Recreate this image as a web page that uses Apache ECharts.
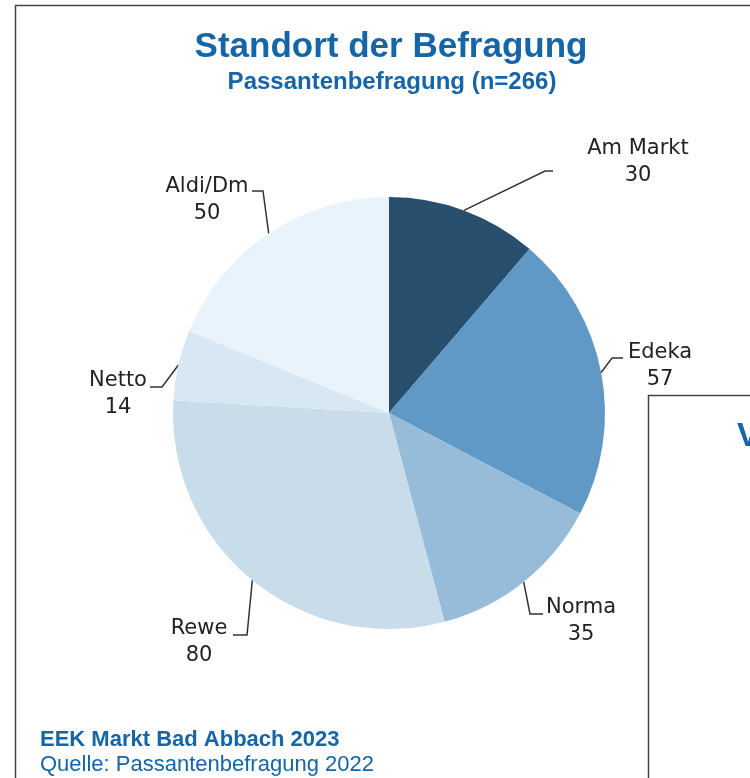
<!DOCTYPE html>
<html>
<head>
<meta charset="utf-8">
<script src="https://cdn.jsdelivr.net/npm/echarts@6/dist/echarts.min.js"></script>
<style>
  html, body { margin: 0; padding: 0; background: #fff; }
  #chart { width: 750px; height: 778px; }
</style>
</head>
<body>
<div id="chart"></div>
<script>
// Werte aus der Grafik
var names = ['Am Markt', 'Edeka', 'Norma', 'Rewe', 'Netto', 'Aldi/Dm'];
var values = [30, 57, 35, 80, 14, 50];
var colors = ['#284f6e', '#6199c6', '#97bcda', '#c9dcea', '#d8e7f4', '#e9f3fb'];

// Beschriftungen: Mitte des Textblocks, Knick und Ende der Fuehrungslinie
var labelPos = {
	'Am Markt' : { at : [638, 162], line : [ [545, 171], [553, 171] ] },
	'Edeka' : { at : [660, 366], line : [ [612, 358], [623, 358] ] },
	'Norma' : { at : [581, 621], line : [ [530, 614], [543, 614] ] },
	'Rewe' : { at : [199, 642], line : [ [247, 635], [233, 635] ] },
	'Netto' : { at : [118, 394], line : [ [162, 387], [150, 387] ] },
	'Aldi/Dm' : { at : [207, 200], line : [ [263, 191], [252, 191] ] }
};

var pieData = new Array();
for (var i = 0; i < names.length; i++) {
	pieData.push({
		value : values[i],
		name : names[i],
		itemStyle : { color : colors[i] }
	});
}

var myChart = echarts.init(document.getElementById('chart'));

var blue = '#1565a8';

var option = {
	backgroundColor : '#fff',
	animation : false,
	title : [ {
		text : 'Standort der Befragung',
		left : 391,
		top : 30,
		padding : 0,
		textAlign : 'center',
		textStyle : {
			fontFamily : 'Liberation Sans',
			fontWeight : 'bold',
			fontSize : 35,
			color : blue
		}
	}, {
		text : 'Passantenbefragung (n=266)',
		left : 392,
		top : 70,
		padding : 0,
		textAlign : 'center',
		textStyle : {
			fontFamily : 'Liberation Sans',
			fontWeight : 'bold',
			fontSize : 24,
			color : blue
		}
	}, {
		text : 'EEK Markt Bad Abbach 2023',
		left : 40,
		top : 729,
		padding : 0,
		textStyle : {
			fontFamily : 'Liberation Sans',
			fontWeight : 'bold',
			fontSize : 22,
			color : blue
		}
	}, {
		text : 'Quelle: Passantenbefragung 2022',
		left : 40,
		top : 754,
		padding : 0,
		textStyle : {
			fontFamily : 'Liberation Sans',
			fontWeight : 'normal',
			fontSize : 22,
			color : blue
		}
	} ],
	graphic : [ {
		type : 'polyline',
		shape : { points : [ [ 15.5, 778 ], [ 15.5, 5.5 ], [ 750, 5.5 ] ] },
		style : { stroke : '#444', lineWidth : 1.5, fill : null },
		silent : true
	}, {
		type : 'polyline',
		shape : { points : [ [ 648.5, 778 ], [ 648.5, 395.5 ], [ 750, 395.5 ] ] },
		style : { stroke : '#444', lineWidth : 1.5, fill : null },
		silent : true
	}, {
		type : 'text',
		left : 737,
		top : 420,
		style : {
			text : 'V',
			font : 'bold 33px "Liberation Sans"',
			fill : blue
		},
		silent : true
	} ],
	series : [ {
		name : 'Standort',
		type : 'pie',
		center : [ 389, 413 ],
		radius : 216,
		startAngle : 90,
		clockwise : true,
		data : pieData,
		itemStyle : {
			borderWidth : 0
		},
		label : {
			show : true,
			position : 'outside',
			formatter : '{b}\n{c}',
			fontFamily : 'DejaVu Sans',
			fontSize : 21,
			lineHeight : 27,
			color : '#222'
		},
		labelLine : {
			show : true,
			length : 30,
			length2 : 10,
			lineStyle : {
				color : '#333',
				width : 1.5
			}
		},
		labelLayout : function(params) {
			var p = labelPos[params.text.split('\n')[0]];
			if (!p) {
				return {};
			}
			var res = {
				x : p.at[0],
				y : p.at[1],
				align : 'center',
				verticalAlign : 'middle'
			};
			if (params.labelLinePoints) {
				res.labelLinePoints = [ params.labelLinePoints[0], p.line[0], p.line[1] ];
			}
			return res;
		},
		emphasis : { disabled : true }
	} ]
};

myChart.setOption(option);
</script>
</body>
</html>
